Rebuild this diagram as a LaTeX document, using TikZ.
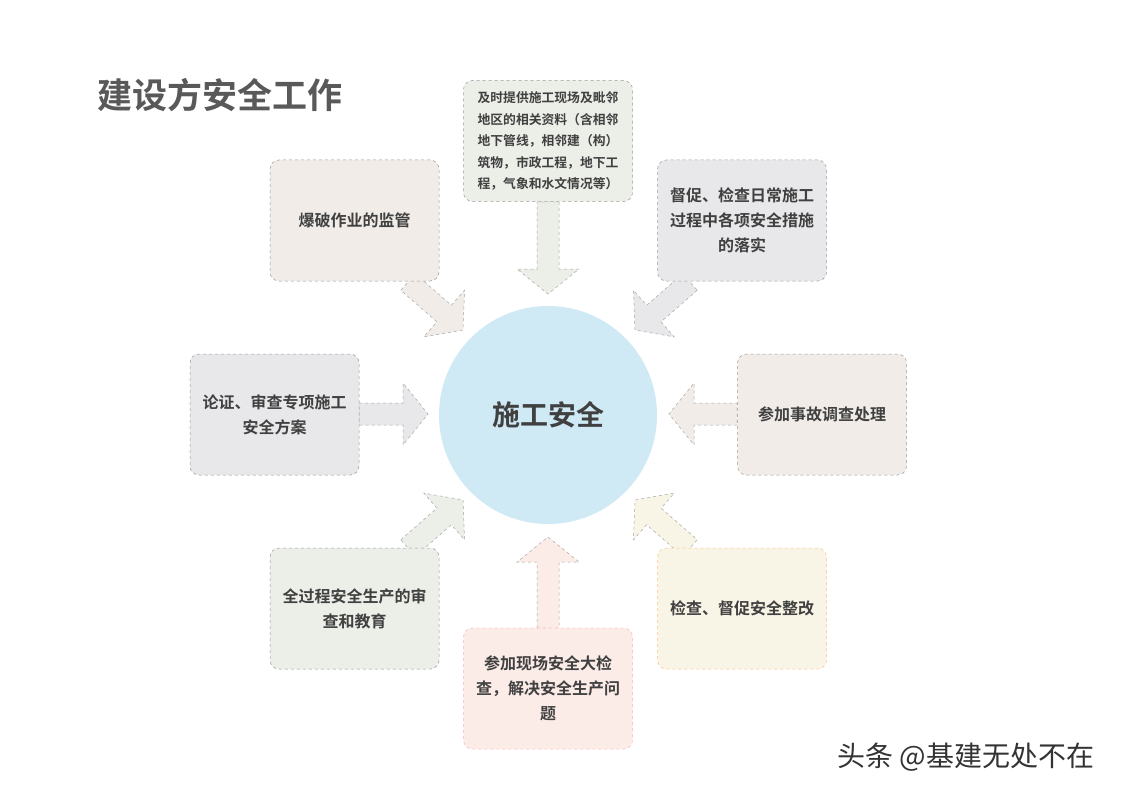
\documentclass[tikz,border=0pt]{standalone}
\usepackage{fontspec}
\newfontfamily\cjk{Noto Sans CJK SC}
\newfontfamily\cjkb{Noto Sans CJK SC Bold}
\usetikzlibrary{calc}
\definecolor{cA}{HTML}{ECEEE8}
\definecolor{cB}{HTML}{F1ECE8}
\definecolor{cC}{HTML}{E8E8EA}
\definecolor{cD}{HTML}{FCECE8}
\definecolor{cE}{HTML}{F8F4E6}
\definecolor{circ}{HTML}{CFEAF5}
\newcommand\barrow[3]{%
  \coordinate (H) at ($(#2)!25pt!(#1)$);
  \filldraw[fill=#3,draw=gray!70,dashed,line width=0.5pt]
   ($(#1)!11pt!90:(#2)$) -- ($(H)!11pt!90:(#2)$) -- ($(H)!31pt!90:(#2)$) -- (#2)
   -- ($(H)!31pt!-90:(#2)$) -- ($(H)!11pt!-90:(#2)$) -- ($(#1)!11pt!-90:(#2)$) -- cycle;}
\begin{document}
\begin{tikzpicture}[x=1pt,y=-1pt,
  box/.style={draw=gray!80,dashed,line width=0.5pt,rounded corners=9pt,minimum width=169pt,minimum height=121pt,align=center,font=\cjkb\fontsize{16}{25}\selectfont,text=black!75}]
\useasboundingbox (0,0) rectangle (1123,794);
\fill[white] (0,0) rectangle (1123,794);
\node[anchor=west,font=\cjkb\fontsize{35}{38}\selectfont,text=black!65] (title) at (94,95) {建设方安全工作};
% arrows
\coordinate (a1) at (548,202); \coordinate (b1) at (548,294);
\coordinate (a2) at (408,282); \coordinate (b2) at (463,330);
\coordinate (a3) at (690,282); \coordinate (b3) at (635,330);
\coordinate (a4) at (359,414); \coordinate (b4) at (428,414);
\coordinate (a5) at (737,414); \coordinate (b5) at (669,414);
\coordinate (a6) at (408,548); \coordinate (b6) at (463,500);
\coordinate (a7) at (690,548); \coordinate (b7) at (635,500);
\coordinate (a8) at (548,628); \coordinate (b8) at (548,537);
\barrow{a1}{b1}{cA}
\barrow{a2}{b2}{cB}
\barrow{a3}{b3}{cC}
\barrow{a4}{b4}{cC}
\barrow{a5}{b5}{cB}
\barrow{a6}{b6}{cA}
\barrow{a7}{b7}{cE}
\barrow{a8}{b8}{cD}
\node[circle,fill=circ,minimum size=218pt,font=\cjkb\fontsize{28}{30}\selectfont,text=black!75] (c) at (548,415) {施工安全};
\node[box,fill=cA,font=\cjkb\fontsize{12.8}{21.5}\selectfont] (t) at (548,141) {及时提供施工现场及毗邻\\地区的相关资料（含相邻\\地下管线，相邻建（构）\\筑物，市政工程，地下工\\程，气象和水文情况等）};
\node[box,fill=cB] (tl) at (354.5,220.5) {爆破作业的监管};
\node[box,fill=cC] (tr) at (742,220.5) {督促、检查日常施工\\过程中各项安全措施\\的落实};
\node[box,fill=cC] (l) at (274.5,414.5) {论证、审查专项施工\\安全方案};
\node[box,fill=cB] (r) at (822,414.5) {参加事故调查处理};
\node[box,fill=cA] (bl) at (354.5,608.5) {全过程安全生产的审\\查和教育};
\node[box,fill=cD,draw=red!30] (b) at (548,688.5) {参加现场安全大检\\查，解决安全生产问\\题};
\node[box,fill=cE,draw=orange!50] (br) at (742,608.5) {检查、督促安全整改};
\node[anchor=west,font=\cjk\fontsize{28}{30}\selectfont,text=black!80] (wm) at (834,757) {头条 @基建无处不在};
\end{tikzpicture}
\end{document}
